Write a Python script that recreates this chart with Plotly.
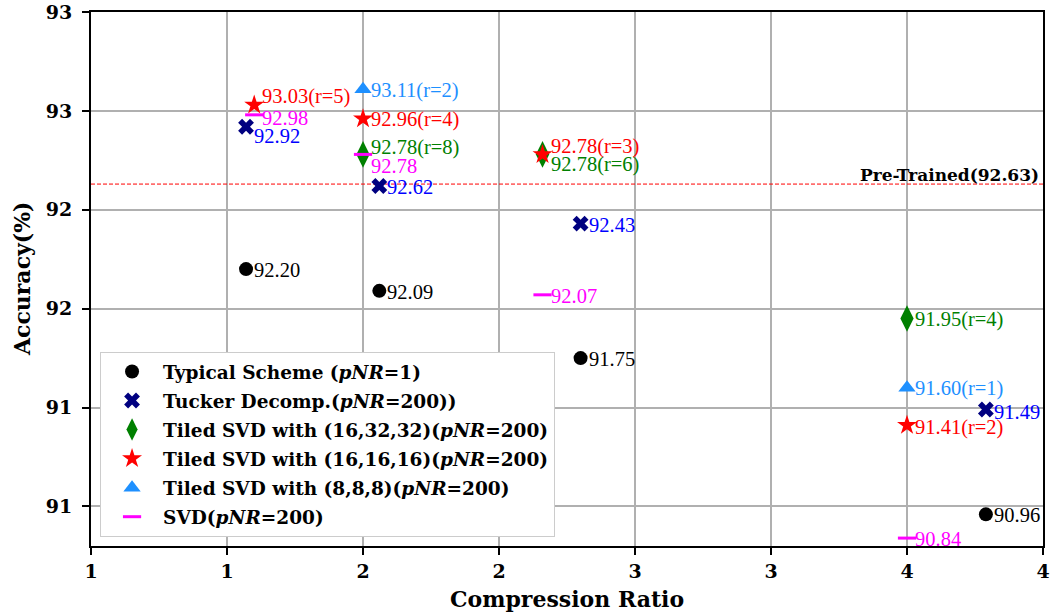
import plotly.graph_objects as go

# ---------------- data ----------------
typical_x = [1.57, 2.06, 2.80, 4.29]
typical_y = [92.20, 92.09, 91.75, 90.96]

tucker_x = [1.57, 2.06, 2.80, 4.29]
tucker_y = [92.92, 92.62, 92.43, 91.49]

tiled32_x = [2.00, 2.66, 4.00]
tiled32_y = [92.78, 92.78, 91.95]
tiled32_r = [8, 6, 4]

tiled16_x = [1.60, 2.00, 2.66, 4.00]
tiled16_y = [93.03, 92.96, 92.78, 91.41]
tiled16_r = [5, 4, 3, 2]

tiled8_x = [2.00, 4.00]
tiled8_y = [93.11, 91.60]
tiled8_r = [2, 1]

svd_x = [1.60, 2.00, 2.66, 4.00]
svd_y = [92.98, 92.78, 92.07, 90.84]

pretrained_acc = 92.63

x_tickvals = [1.0, 1.5, 2.0, 2.5, 3.0, 3.5, 4.0, 4.5]
x_ticktext = ["1", "1", "2", "2", "3", "3", "4", "4"]
y_tickvals = [91.0, 91.5, 92.0, 92.5, 93.0, 93.5]
y_ticktext = ["91", "91", "92", "92", "93", "93"]

# label vertical shifts (px, positive = up)
typical_dy = [-1, -1, -1, -1]
tucker_dy = [-9, -1, -1, -2]
tiled32_dy = [7, -10, -1]
tiled16_dy = [8, -1, 8, -2]
tiled8_dy = [-1, -1]
svd_dy = [-3, -12, -1, -1]

BOLD_FONT = "DejaVu Serif"
LABEL_FONT = "Liberation Serif"

fig = go.Figure()

# pre-trained reference line
fig.add_trace(go.Scatter(
    x=[x_tickvals[0], x_tickvals[-1]], y=[pretrained_acc, pretrained_acc],
    mode="lines", line=dict(color="red", width=1, dash="4px,2px"),
    showlegend=False, hoverinfo="skip"))

series = [
    dict(x=typical_x, y=typical_y, name="Typical Scheme (<i>pNR</i>=1)",
         marker=dict(symbol="circle", size=14, color="black"),
         lbl=[f"{v:.2f}" for v in typical_y], lc="black", dy=typical_dy),
    dict(x=tucker_x, y=tucker_y, name="Tucker Decomp.(<i>pNR</i>=200))",
         marker=dict(symbol="x", size=14, color="#000080"),
         lbl=[f"{v:.2f}" for v in tucker_y], lc="#0000ff", dy=tucker_dy),
    dict(x=tiled32_x, y=tiled32_y, name="Tiled SVD with (16,32,32)(<i>pNR</i>=200)",
         marker=dict(symbol="diamond-tall", size=19, color="green"),
         lbl=[f"{v:.2f}(r={r})" for v, r in zip(tiled32_y, tiled32_r)], lc="green", dy=tiled32_dy),
    dict(x=tiled16_x, y=tiled16_y, name="Tiled SVD with (16,16,16)(<i>pNR</i>=200)",
         marker=dict(symbol="star", size=15, color="red"),
         lbl=[f"{v:.2f}(r={r})" for v, r in zip(tiled16_y, tiled16_r)], lc="red", dy=tiled16_dy),
    dict(x=tiled8_x, y=tiled8_y, name="Tiled SVD with (8,8,8)(<i>pNR</i>=200)",
         marker=dict(symbol="triangle-up", size=15, color="#1e90ff"),
         lbl=[f"{v:.2f}(r={r})" for v, r in zip(tiled8_y, tiled8_r)], lc="#1e90ff", dy=tiled8_dy),
    dict(x=svd_x, y=svd_y, name="SVD(<i>pNR</i>=200)",
         marker=dict(symbol="line-ew", size=13, color="#ff00ff",
                     line=dict(color="#ff00ff", width=3)),
         lbl=[f"{v:.2f}" for v in svd_y], lc="#ff00ff", dy=svd_dy),
]

for i, s in enumerate(series):
    fig.add_trace(go.Scatter(
        x=s["x"], y=s["y"], mode="markers", name=s["name"],
        marker=s["marker"], legendgroup=f"g{i}"))
    for xv, yv, t, d in zip(s["x"], s["y"], s["lbl"], s["dy"]):
        fig.add_annotation(
            x=xv, y=yv, text=t, showarrow=False, xanchor="left", yanchor="middle",
            xshift=6, yshift=d, font=dict(family=LABEL_FONT, size=20.5, color=s["lc"]))

fig.add_annotation(
    x=x_tickvals[-1], y=pretrained_acc, text="Pre-Trained(92.63)", showarrow=False,
    xanchor="right", yanchor="middle", xshift=-2, yshift=9,
    font=dict(family=BOLD_FONT, size=17, color="black", weight="bold"))

# axis titles
fig.add_annotation(
    xref="paper", yref="paper", x=0.5, y=-0.1, text="Compression Ratio",
    showarrow=False, xanchor="center", yanchor="middle",
    font=dict(family=BOLD_FONT, size=22, color="black", weight="bold"))
fig.add_annotation(
    xref="paper", yref="paper", x=-0.0724, y=0.5, text="Accuracy(%)",
    showarrow=False, xanchor="center", yanchor="middle", textangle=-90,
    font=dict(family=BOLD_FONT, size=22, color="black", weight="bold"))

axis_common = dict(
    showgrid=True, gridcolor="#b0b0b0", gridwidth=1.5,
    showline=True, linecolor="black", linewidth=2, mirror=True,
    ticks="outside", ticklen=7, tickwidth=1.5, tickcolor="black",
    zeroline=False, automargin=False,
    tickfont=dict(family=BOLD_FONT, size=19, color="black", weight="bold"),
)

fig.update_xaxes(
    range=[1.0, 4.5], tickmode="array", tickvals=x_tickvals, ticktext=x_ticktext,
    **axis_common)
fig.update_yaxes(
    range=[90.8, 93.5], tickmode="array", tickvals=y_tickvals, ticktext=y_ticktext,
    ticklabelstandoff=6, **axis_common)

fig.update_layout(
    width=1050, height=616,
    margin=dict(l=91, r=7, t=12, b=70),
    plot_bgcolor="white", paper_bgcolor="white",
    legend=dict(
        x=0.0095, y=0.017, xanchor="left", yanchor="bottom",
        bgcolor="white", bordercolor="#cccccc", borderwidth=1,
        font=dict(family=BOLD_FONT, size=18.5, color="black", weight="bold"),
        tracegroupgap=2, itemwidth=52,
    ),
)

fig.write_html("out.html", config={"displayModeBar": False},
               post_script="document.body.style.margin='0';document.body.style.overflow='hidden';")
